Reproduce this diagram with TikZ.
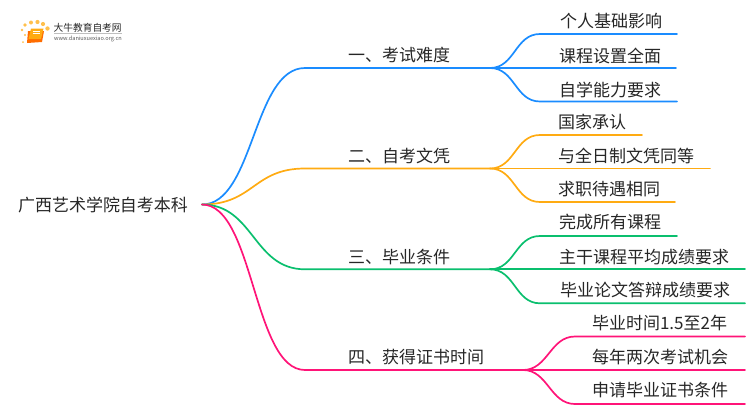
\documentclass[tikz,border=0pt]{standalone}
\usepackage{fontspec}
\usetikzlibrary{calc}
\setmainfont{Noto Sans CJK SC}
\definecolor{cblue}{HTML}{1A8CFF}
\definecolor{corange}{HTML}{FFAB12}
\definecolor{cgreen}{HTML}{0ABF6E}
\definecolor{cpink}{HTML}{FF1478}
\definecolor{ctext}{HTML}{262626}
\tikzset{
  lab/.style={anchor=west,inner sep=0pt,outer sep=0pt,text=ctext,font=\fontsize{17}{20}\selectfont},
  wire/.style={line width=1.7pt,line cap=round},
}
\begin{document}
\begin{tikzpicture}[x=1pt,y=-1pt]
\useasboundingbox (0,0) rectangle (750,410);
% logo
\foreach \p/\r in {{25,35}/1.2,{22,30}/1.4,{25,25}/1.8,{31,22.5}/2.0,{37.5,22}/2.1,{43,24}/2.1,{47.5,28.5}/2.2,{23,42}/1.0}
  \fill[corange!75!white] (\p) circle (\r);
\fill[orange!85!red] (28,31) -- (44,31) -- (42,42) -- (27,43) -- cycle;
\fill[corange] (31,28.5) -- (43.5,28.5) -- (41,39) -- (28.5,39) -- cycle;
\draw[white,line width=0.5pt] (33,31) -- (40,31) (32.5,33) -- (39.5,33);
\node[anchor=west,inner sep=0pt,text=ctext,font=\fontsize{9.7}{11}\selectfont] (logoa) at (53.5,28) {大牛教育自考网};
\draw[black!25,line width=0.5pt] (54,33.5) -- (122,33.5);
\node[anchor=west,inner sep=0pt,text=black!65,font=\fontsize{5.6}{7}\selectfont] (logob) at (54,39) {www.daniuxuexiao.org.cn};
% root
\node[lab] (root) at (18,205.5) {广西艺术学院自考本科};
\coordinate (o) at (202,204.5);
% branch coordinates
\coordinate (b1s) at (305,68);    \coordinate (b1e) at (490,68);
\coordinate (b2s) at (305,168.5); \coordinate (b2e) at (490,168.5);
\coordinate (b3s) at (305,269.3); \coordinate (b3e) at (490,269.3);
\coordinate (b4s) at (305,370);   \coordinate (b4e) at (523,370);
% branch labels
\node[lab] (b1) at (348,55.5) {一、考试难度};
\node[lab] (b2) at (348,155.5) {二、自考文凭};
\node[lab] (b3) at (348,257.5) {三、毕业条件};
\node[lab] (b4) at (348,357.5) {四、获得证书时间};
% leaf labels
\node[lab] (l11) at (560,21.5) {个人基础影响};
\node[lab] (l12) at (559,55.5) {课程设置全面};
\node[lab] (l13) at (559,89.5) {自学能力要求};
\node[lab] (l21) at (558,121.5) {国家承认};
\node[lab] (l22) at (558,155.5) {与全日制文凭同等};
\node[lab] (l23) at (558,189.5) {求职待遇相同};
\node[lab] (l31) at (559,222.5) {完成所有课程};
\node[lab] (l32) at (559,257.5) {主干课程平均成绩要求};
\node[lab] (l33) at (560,290.5) {毕业论文答辩成绩要求};
\node[lab] (l41) at (592,323.5) {毕业时间1.5至2年};
\node[lab] (l42) at (592,357.5) {每年两次考试机会};
\node[lab] (l43) at (592,390.5) {申请毕业证书条件};
% main connectors
\draw[wire,cblue] (o) .. controls (254,204.5) and (253,68) .. (b1s) -- (b1e);
\draw[wire,corange] (o) .. controls (254,204.5) and (253,168.5) .. (b2s) -- (b2e);
\draw[wire,cgreen] (o) .. controls (254,204.5) and (253,269.3) .. (b3s) -- (b3e);
\draw[wire,cpink] (o) .. controls (254,204.5) and (253,370) .. (b4s) -- (b4e);
% leaf connectors
\foreach \c/\b/\y/\xa/\xb in {
  cblue/b1e/34/540/677, cblue/b1e/68/540/676, cblue/b1e/101.5/540/677,
  corange/b2e/135/540/642, corange/b2e/168.5/540/710, corange/b2e/202/540/675,
  cgreen/b3e/236/540/677, cgreen/b3e/269.3/540/745, cgreen/b3e/303.3/540/745,
  cpink/b4e/336.5/575/745, cpink/b4e/370/575/745, cpink/b4e/404/575/745}
{
  \coordinate (p) at (\xa,\y);
  \coordinate (q) at (\xb,\y);
  \draw[wire,\c] (\b) .. controls ($(\b)+(25,0)$) and ($(p)+(-25,0)$) .. (p) -- (q);
}
\end{tikzpicture}
\end{document}
